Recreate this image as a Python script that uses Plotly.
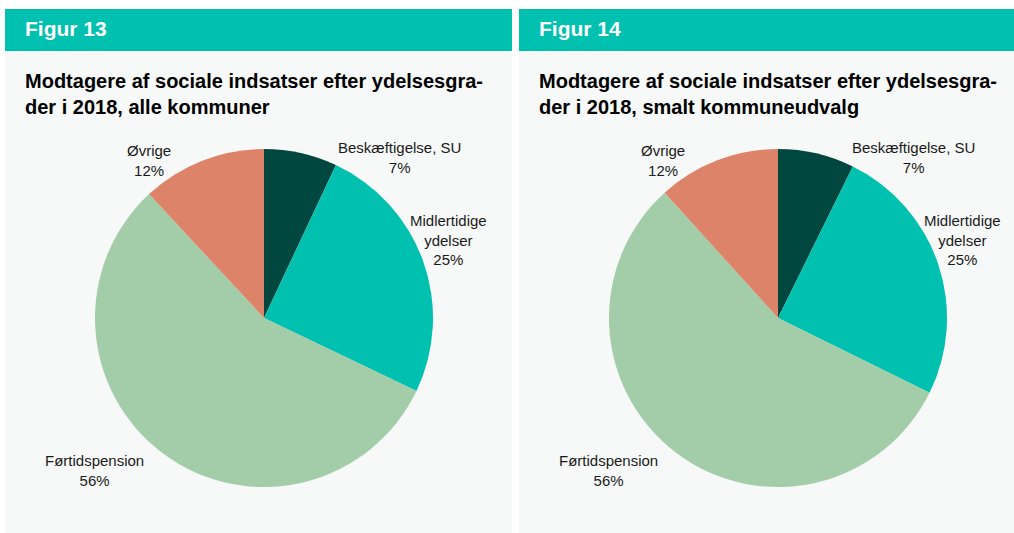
import plotly.graph_objects as go

# data (shares in %)
labels = ["Beskæftigelse, SU", "Midlertidige<br>ydelser", "Førtidspension", "Øvrige"]
alle_kommuner = [7.0, 25.1, 56.0, 11.9]
smalt_udvalg = [7.3, 25.0, 56.0, 11.7]
slice_colors = ["#00473F", "#00C0B0", "#A3CDA8", "#DC836A"]

fig_numbers = ["Figur 13", "Figur 14"]
titles = [
    "Modtagere af sociale indsatser efter ydelsesgra-<br>der i 2018, alle kommuner",
    "Modtagere af sociale indsatser efter ydelsesgra-<br>der i 2018, smalt kommuneudvalg",
]

W, H = 1014, 533
FONT = "Liberation Sans, Arial, sans-serif"
TEAL = "#00C0B0"
PANEL_BG = "#F7F9F8"

# layout in pixels
panels = [(5, 512), (519, 1014)]          # left/right edge of each panel
pie_cx = [264, 778]                       # pie centres
pie_cy, pie_r = 318, 169
# where the data labels sit, relative to the pie centre (same order as labels)
label_offsets = [(135, -161), (184, -78), (-170, 152), (-115, -158)]


def px(x):
    return x / W


def py(y):
    return 1 - y / H


fig = go.Figure()

for i, values in enumerate([alle_kommuner, smalt_udvalg]):
    cx = pie_cx[i]
    fig.add_trace(go.Pie(
        labels=labels,
        values=values,
        sort=False,
        direction="clockwise",
        rotation=0,
        marker=dict(colors=slice_colors, line=dict(width=0)),
        textinfo="none",
        hoverinfo="label+percent",
        showlegend=False,
        domain=dict(x=[px(cx - pie_r), px(cx + pie_r)],
                    y=[py(pie_cy + pie_r), py(pie_cy - pie_r)]),
    ))
    # data labels: name + rounded share
    for lab, val, (dx, dy) in zip(labels, values, label_offsets):
        fig.add_annotation(text=f"{lab}<br>{val:.0f}%", xref="paper", yref="paper",
                           x=px(cx + dx), y=py(pie_cy + dy),
                           xanchor="center", yanchor="middle", align="center",
                           showarrow=False,
                           font=dict(family=FONT, size=15, color="#1a1a1a"))

for i, (left, right) in enumerate(panels):
    # grey panel
    fig.add_shape(type="rect", xref="paper", yref="paper",
                  x0=px(left), x1=px(right), y0=0, y1=py(51),
                  fillcolor=PANEL_BG, line_width=0, layer="below")
    # teal header band
    fig.add_shape(type="rect", xref="paper", yref="paper",
                  x0=px(left), x1=px(right), y0=py(51), y1=py(9),
                  fillcolor=TEAL, line_width=0, layer="below")
    fig.add_annotation(text=f"<b>{fig_numbers[i]}</b>", xref="paper", yref="paper",
                       x=px(left + 18), y=py(29), xanchor="left", yanchor="middle",
                       showarrow=False, font=dict(family=FONT, size=21, color="white"))
    fig.add_annotation(text=f"<b>{titles[i]}</b>", xref="paper", yref="paper",
                       x=px(left + 18), y=py(94), xanchor="left", yanchor="middle",
                       align="left", showarrow=False,
                       font=dict(family=FONT, size=20, color="black"))

fig.update_layout(
    width=W, height=H,
    autosize=False,
    margin=dict(l=0, r=0, t=0, b=0, autoexpand=False),
    paper_bgcolor="white",
    plot_bgcolor="white",
    font=dict(family=FONT),
)

# drop the browser's default body margin so the figure sits at the page corner
fig.write_html("out.html", config={"displayModeBar": False},
               post_script="document.body.style.margin='0px';document.body.style.overflow='hidden';")
